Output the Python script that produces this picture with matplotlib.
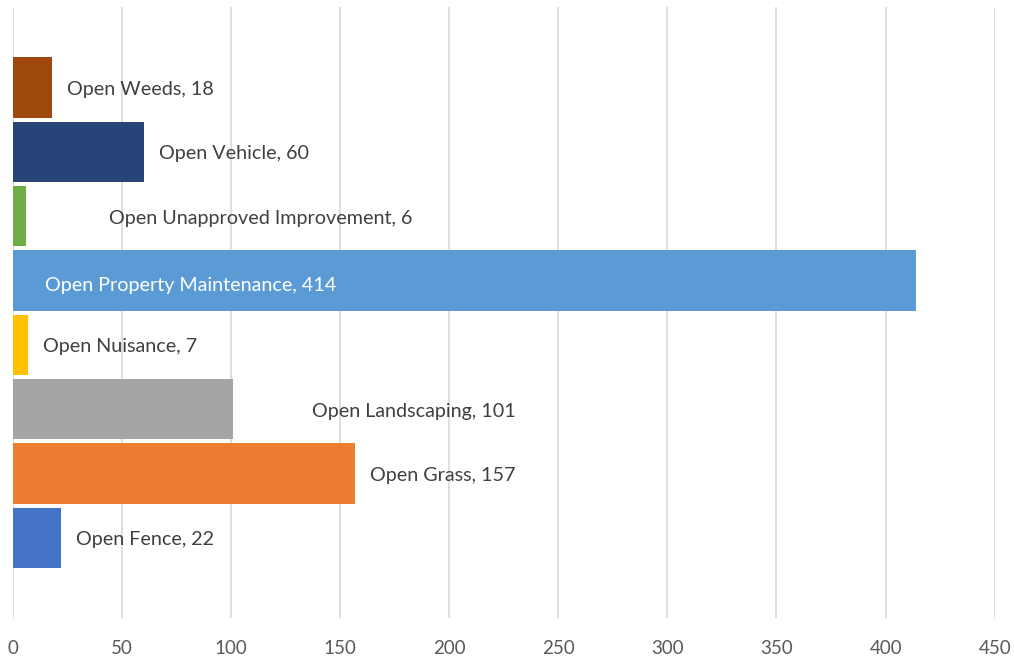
import numpy as np
import matplotlib
matplotlib.use("Agg")
import matplotlib.pyplot as plt

# categories from bottom to top, as in the chart
categories = ["Open Fence", "Open Grass", "Open Landscaping", "Open Nuisance",
              "Open Property Maintenance", "Open Unapproved Improvement",
              "Open Vehicle", "Open Weeds"]
counts = [22, 157, 101, 7, 414, 6, 60, 18]
colors = ["#4472C4", "#ED7D31", "#A5A5A5", "#FFC000",
          "#5B9BD5", "#70AD47", "#264478", "#9E480E"]
xticks = [0, 50, 100, 150, 200, 250, 300, 350, 400, 450]

# label placement (pixels right of the bar end; inside label is measured from 0)
label_gap = [15, 15, 79, 15, 32, 83, 15, 15]
label_inside = [False, False, False, False, True, False, False, False]

plt.rcParams['font.family'] = ['Lato', 'DejaVu Sans']

fig = plt.figure(figsize=(10.14, 6.59), dpi=100)
ax = fig.add_axes([0.0125, 0.062, 0.9685, 0.927])

y = np.arange(len(categories))
ax.barh(y, counts, height=0.94, color=colors, zorder=2)

for i, (cat, val) in enumerate(zip(categories, counts)):
    if label_inside[i]:
        ax.annotate(f"{cat}, {val}", xy=(0, i), xytext=(label_gap[i], -5),
                    textcoords='offset pixels', va='center', ha='left',
                    color='white', fontsize=14.2, zorder=3)
    else:
        ax.annotate(f"{cat}, {val}", xy=(val, i), xytext=(label_gap[i], -2),
                    textcoords='offset pixels', va='center', ha='left',
                    color='#404040', fontsize=14.2, zorder=3)

ax.set_xlim(0, 450)
ax.set_ylim(-1.25, 8.25)
ax.set_xticks(xticks)
ax.set_yticks([])
ax.grid(axis='x', color='#D9D9D9', linewidth=1.2, zorder=0)
for s in ax.spines.values():
    s.set_visible(False)
ax.tick_params(axis='x', length=0, pad=16, labelsize=13.5, labelcolor='#595959')

fig.savefig("out.png", dpi=100)
